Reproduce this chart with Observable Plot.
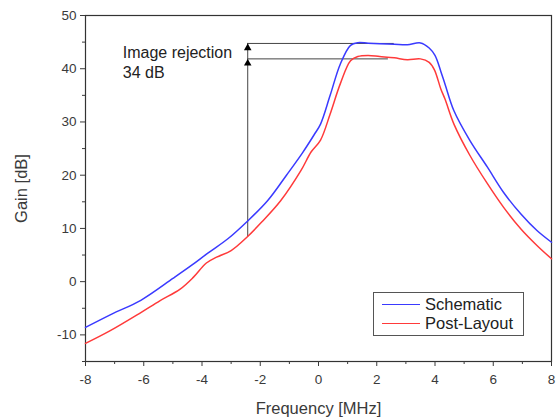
<!DOCTYPE html>
<html>
<head>
<meta charset="utf-8">
<script src="https://cdn.jsdelivr.net/npm/d3@7"></script>
<script src="https://cdn.jsdelivr.net/npm/@observablehq/plot@0.6"></script>
<style>
  html, body { margin: 0; padding: 0; background: #fff; }
  #wrap { position: relative; width: 558px; height: 419px; font-family: "Liberation Sans", Arial, sans-serif; }
  #legend { position: absolute; left: 373px; top: 292px; width: 151px; height: 44px; border: 1px solid #555; background: #fff; box-sizing: border-box; font-size: 16.5px; color: #222; }
  .row { position: absolute; left: 8px; height: 20px; display: flex; align-items: center; }
  .row span.sw { display: inline-block; width: 38px; height: 0; border-top: 1.5px solid; margin-right: 5px; }
</style>
</head>
<body>
<div id="wrap"></div>
<script>
// ---- data ----
const schematicFreq = [-8, -7.1, -6.1, -5, -4.4, -3.8, -3.1, -2.45, -1.75, -1.1, -0.55, -0.15, 0.07, 0.4, 0.75, 1.1, 1.35, 1.7, 2.1, 2.6, 3.05, 3.5, 3.8, 4.0, 4.2, 4.35, 4.65, 5.2, 5.8, 6.35, 6.95, 7.5, 8];
const schematicGain = [-8.6, -6.1, -3.5, 0.6, 2.9, 5.35, 8.1, 11.3, 15.2, 20.0, 24.2, 27.6, 29.6, 35, 40.9, 44.4, 44.9, 44.8, 44.7, 44.6, 44.5, 44.85, 43.9, 42.5, 39.5, 37, 32.1, 26.5, 21.5, 16.8, 12.7, 9.6, 7.4];
const postFreq = [-8, -7.15, -6.1, -5.45, -4.75, -4.3, -3.85, -3.5, -3.0, -2.45, -1.95, -1.3, -0.6, -0.25, 0.07, 0.4, 0.75, 1.1, 1.35, 1.7, 2.1, 2.6, 3.05, 3.5, 3.8, 3.98, 4.2, 4.35, 4.65, 5.2, 5.8, 6.35, 6.95, 7.5, 8];
const postGain = [-11.6, -9.2, -5.8, -3.6, -1.4, 0.8, 3.5, 4.6, 5.85, 8.4, 11.2, 15.2, 20.9, 24.4, 26.6, 31.5, 37.2, 41.5, 42.3, 42.5, 42.3, 42.05, 41.7, 41.85, 41.2, 39.8, 36.2, 34.2, 29.6, 23.7, 18.4, 14, 9.9, 6.8, 4.3];
const seriesNames = ["Schematic", "Post-Layout"];
const seriesColors = ["#3a3aff", "#ff3a3a"];

const xTicks = [-8, -6, -4, -2, 0, 2, 4, 6, 8];
const xMinorTicks = [-7, -5, -3, -1, 1, 3, 5, 7];
const yTicks = [-10, 0, 10, 20, 30, 40, 50];
const yMinorTicks = [-15, -5, 5, 15, 25, 35, 45];

// annotation values
const rejX = -2.43;
const rejBottom = 8.4;
const rejTop = 44.75;
const rejLevels = [44.75, 41.85];
const rejLevelEnds = [2.6, 2.4];
const rejArrowY = [43.9, 41.0];
const rejLabel = ["Image rejection\n34 dB"];
const rejLabelX = -6.72;
const rejLabelY = 44.6;

// ---- build ----
const rows = [];
schematicFreq.forEach((f, i) => rows.push({series: seriesNames[0], f, g: schematicGain[i]}));
postFreq.forEach((f, i) => rows.push({series: seriesNames[1], f, g: postGain[i]}));

const levels = rejLevels.map((y, i) => ({y, x1: rejX, x2: rejLevelEnds[i]}));

const chart = Plot.plot({
  width: 558,
  height: 419,
  marginLeft: 85,
  marginRight: 7,
  marginTop: 15,
  marginBottom: 58,
  style: {fontFamily: "'Liberation Sans', Arial, sans-serif", fontSize: "13px", color: "#3a3a3a", background: "#fff"},
  x: {domain: [-8, 8]},
  y: {domain: [-15, 50]},
  color: {domain: seriesNames, range: seriesColors},
  marks: [
    Plot.frame({stroke: "#333", strokeWidth: 1.2}),
    Plot.axisX({ticks: xTicks, tickSize: 5, tickPadding: 8, tickFormat: d => String(d), label: "Frequency [MHz]", labelAnchor: "center", labelArrow: "none", labelOffset: 52, fontSize: 13.5}),
    Plot.axisX({ticks: xMinorTicks, tickSize: 3, tickFormat: null, text: null, label: null}),
    Plot.axisY({ticks: yTicks, tickSize: 5, tickPadding: 4, tickFormat: d => String(d), label: "Gain [dB]", labelAnchor: "center", labelArrow: "none", labelOffset: 70, fontSize: 13.5}),
    Plot.axisY({ticks: yMinorTicks, tickSize: 3, text: null, label: null}),
    Plot.ruleX([rejX], {y1: rejBottom, y2: rejTop, stroke: "#444", strokeWidth: 1}),
    Plot.ruleY(levels, {y: "y", x1: "x1", x2: "x2", stroke: "#444", strokeWidth: 1}),
    Plot.dot(rejArrowY, {x: rejX, y: d => d, symbol: "triangle", r: 2.8, fill: "#000", stroke: "none"}),
    Plot.line(rows, {x: "f", y: "g", z: "series", stroke: "series", strokeWidth: 1.5, curve: "catmull-rom"}),
    Plot.text(rejLabel, {x: rejLabelX, y: rejLabelY, text: d => d, textAnchor: "start", lineAnchor: "top", lineHeight: 1.25, fontSize: 16, fill: "#222"})
  ]
});

chart.querySelectorAll("g[aria-label='x-axis label'] text, g[aria-label='y-axis label'] text").forEach(t => t.setAttribute("font-size", "16.5"));

const wrap = document.getElementById("wrap");
wrap.appendChild(chart);

const legend = document.createElement("div");
legend.id = "legend";
seriesNames.forEach((name, i) => {
  const r = document.createElement("div");
  r.className = "row";
  r.style.top = (1 + i * 19) + "px";
  const sw = document.createElement("span");
  sw.className = "sw";
  sw.style.borderColor = seriesColors[i];
  r.appendChild(sw);
  r.appendChild(document.createTextNode(name));
  legend.appendChild(r);
});
wrap.appendChild(legend);
</script>
</body>
</html>
